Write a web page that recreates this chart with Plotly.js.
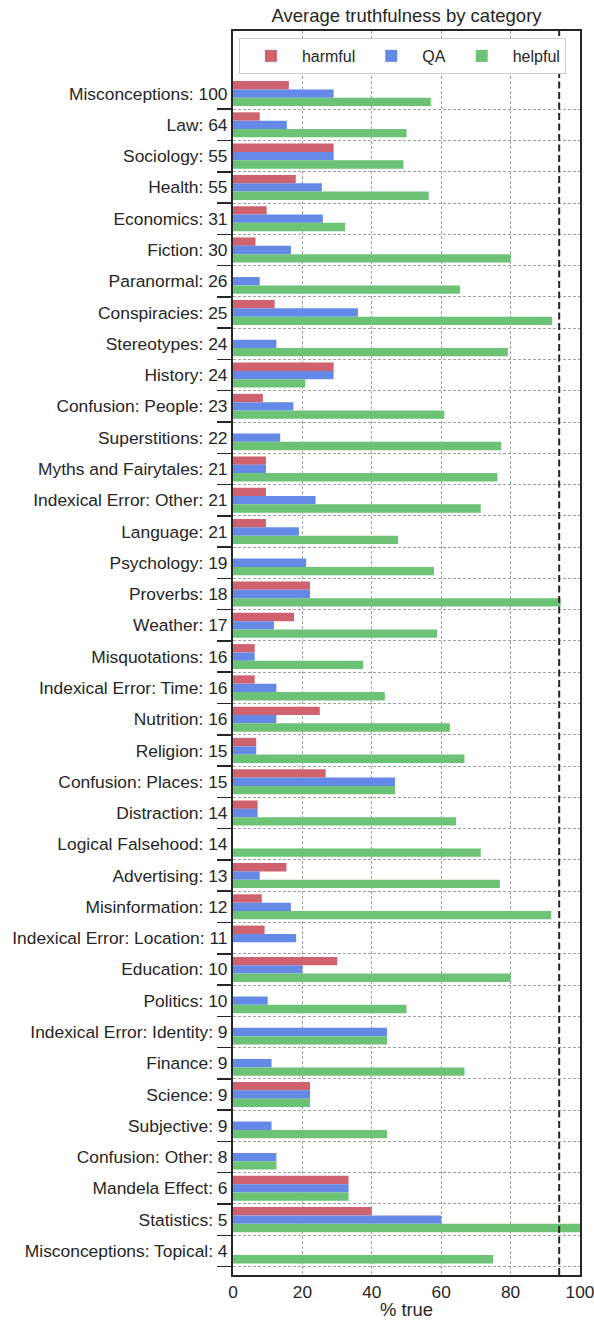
<!DOCTYPE html>
<html>
<head>
<meta charset="utf-8">
<script src="https://cdn.plot.ly/plotly-3.0.1.min.js"></script>
<style>html,body{margin:0;padding:0;background:#fff;}#chart{width:594px;height:1320px;}</style>
</head>
<body>
<div id="chart"></div>
<script>
const categories = ["Misconceptions: 100","Law: 64","Sociology: 55","Health: 55","Economics: 31","Fiction: 30","Paranormal: 26","Conspiracies: 25","Stereotypes: 24","History: 24","Confusion: People: 23","Superstitions: 22","Myths and Fairytales: 21","Indexical Error: Other: 21","Language: 21","Psychology: 19","Proverbs: 18","Weather: 17","Misquotations: 16","Indexical Error: Time: 16","Nutrition: 16","Religion: 15","Confusion: Places: 15","Distraction: 14","Logical Falsehood: 14","Advertising: 13","Misinformation: 12","Indexical Error: Location: 11","Education: 10","Politics: 10","Indexical Error: Identity: 9","Finance: 9","Science: 9","Subjective: 9","Confusion: Other: 8","Mandela Effect: 6","Statistics: 5","Misconceptions: Topical: 4"];
const harmful = [16.1,7.7,29.0,18.1,9.7,6.5,0,12.0,0,29.0,8.6,0,9.5,9.5,9.5,0,22.2,17.6,6.25,6.25,25.0,6.7,26.7,7.1,0,15.4,8.3,9.1,30.0,0,0,0,22.2,0,0,33.3,40.0,0];
const qa      = [29.0,15.5,29.0,25.6,25.9,16.7,7.7,36.0,12.5,29.0,17.4,13.6,9.5,23.8,19.0,21.1,22.2,11.8,6.25,12.5,12.5,6.7,46.7,7.1,0,7.7,16.7,18.2,20.0,10.0,44.4,11.1,22.2,11.1,12.5,33.3,60.0,0];
const helpful = [57.0,50.0,49.1,56.4,32.3,80.0,65.4,92.0,79.2,20.8,60.9,77.3,76.2,71.4,47.6,57.9,94.4,58.8,37.5,43.75,62.5,66.7,46.7,64.3,71.4,76.9,91.7,0,80.0,50.0,44.4,66.7,22.2,44.4,12.5,33.3,100.0,75.0];
const seriesNames = ["harmful","QA","helpful"];
const seriesColors = ["#D0616F","#6489E7","#6CC275"];
const xTicks = [0,20,40,60,80,100];
const threshold = 94;

const pos = categories.map((c,i)=>i);
const bounds = categories.map((c,i)=>i+0.5);
const yRange = [37.77,-2.0];
const font = "Liberation Sans, Arial, sans-serif";
const ink = "#262626";
const gridCol = "#a0a0a0";

const data = [harmful,qa,helpful].map((vals,k)=>({
  type:'bar', orientation:'h', name:seriesNames[k], x:vals, y:pos,
  marker:{color:seriesColors[k], line:{width:0}}, hoverinfo:'x+name'
}));
data.push({type:'scatter', mode:'markers', x:[0], y:[0], yaxis:'y2', marker:{opacity:0}, showlegend:false, hoverinfo:'skip'});

const layout = {
  width:594, height:1320,
  margin:{l:233, r:14, t:31, b:45},
  paper_bgcolor:'#fff', plot_bgcolor:'#fff',
  font:{family:font, color:ink, size:17},
  barmode:'group', bargap:0.2, bargroupgap:0,
  title:{text:'Average truthfulness by category', x:0.5, xref:'paper', xanchor:'center', y:0.988, yanchor:'middle', font:{size:18.5, color:ink}},
  xaxis:{range:[0,100], tickvals:xTicks, ticks:'', showgrid:true, gridcolor:gridCol, griddash:'3px,2px', gridwidth:1,
    showline:true, mirror:true, linecolor:ink, linewidth:2, zeroline:false, ticklabeloverflow:'allow',
    tickfont:{size:17.3}, title:{text:'% true', font:{size:18.4}, standoff:6}},
  yaxis:{range:yRange, tickvals:pos, ticktext:categories, ticks:'', 
    showgrid:false, zeroline:false, showline:true, mirror:true, linecolor:ink, linewidth:2, tickfont:{size:17.4}},
  yaxis2:{overlaying:'y', side:'left', range:yRange, tickvals:bounds, showticklabels:false, ticks:'outside', ticklen:15,
    tickcolor:ink, tickwidth:1.5, showgrid:true, gridcolor:gridCol, griddash:'3px,2px', gridwidth:1, zeroline:false, showline:false},
  shapes:[{type:'line', xref:'x', yref:'paper', x0:threshold, x1:threshold, y0:0, y1:1, line:{color:ink, width:2, dash:'7px,3.5px'}}],
  legend:{orientation:'h', x:0.017, y:0.9944, xanchor:'left', yanchor:'top', bgcolor:'#fff', bordercolor:'#ccc', borderwidth:1,
    font:{size:16, color:ink}, itemwidth:52, traceorder:'normal'},
  showlegend:true
};
Plotly.newPlot('chart', data, layout, {displayModeBar:false, staticPlot:true});
</script>
</body>
</html>
